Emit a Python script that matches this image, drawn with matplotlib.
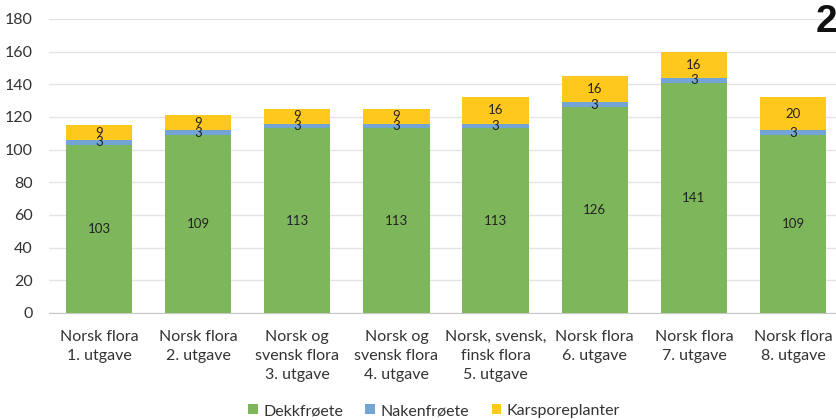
import matplotlib
matplotlib.use("Agg")
import matplotlib.pyplot as plt
import numpy as np

categories = ["Norsk flora\n1. utgave", "Norsk flora\n2. utgave", "Norsk og\nsvensk flora\n3. utgave",
              "Norsk og\nsvensk flora\n4. utgave", "Norsk, svensk,\nfinsk flora\n5. utgave",
              "Norsk flora\n6. utgave", "Norsk flora\n7. utgave", "Norsk flora\n8. utgave"]
dekkfroete = [103, 109, 113, 113, 113, 126, 141, 109]
nakenfroete = [3, 3, 3, 3, 3, 3, 3, 3]
karsporeplanter = [9, 9, 9, 9, 16, 16, 16, 20]
series_names = ["Dekkfrøete", "Nakenfrøete", "Karsporeplanter"]
yticks = [0, 20, 40, 60, 80, 100, 120, 140, 160, 180]

colors = ["#7db65b", "#72a5d6", "#ffc81c"]

plt.rcParams['font.family'] = ['Lato', 'DejaVu Sans']

fig = plt.figure(figsize=(8.36, 4.2), dpi=100)
ax = fig.add_axes([49.4/836, 1-313/420, (842.6-49.4)/836, 294/420])

x = np.arange(len(categories))
w = 0.67
bottoms = np.zeros(len(categories))
for vals, col, name in zip([dekkfroete, nakenfroete, karsporeplanter], colors, series_names):
    ax.bar(x, vals, w, bottom=bottoms, color=col, label=name, zorder=3)
    for xi, b, v in zip(x, bottoms, vals):
        ax.text(xi, b + v/2, str(v), ha='center', va='center', fontsize=9.5, color='#222222', zorder=4)
    bottoms = bottoms + np.array(vals)

ax.set_xlim(-0.5, len(categories)-0.5)
ax.set_ylim(0, 180)
ax.set_yticks(yticks)
ax.yaxis.grid(True, color='#e4e4e4', linewidth=1, zorder=0)
ax.set_axisbelow(True)
for s in ['top', 'right', 'left']:
    ax.spines[s].set_visible(False)
ax.spines['bottom'].set_color('#c8c8c8')
ax.tick_params(axis='both', length=0, labelsize=11.5, colors='#333333')
ax.tick_params(axis='y', pad=12)
ax.set_xticks(x)
ax.set_xticklabels(categories, linespacing=1.45)
ax.tick_params(axis='x', pad=12)

fig.legend(loc='center', bbox_to_anchor=(434/836, 1-411/420), ncol=3, frameon=False,
           fontsize=11.5, handlelength=0.6, handleheight=0.6, handletextpad=0.35, columnspacing=1.4,
           labelcolor='#333333', borderpad=0)

fig.text(816/836, 1-22/420, "2", ha='left', va='center', fontsize=28, fontweight='bold',
         family=['Liberation Sans', 'DejaVu Sans'], color='#111111')

fig.savefig("out.png", dpi=100)
